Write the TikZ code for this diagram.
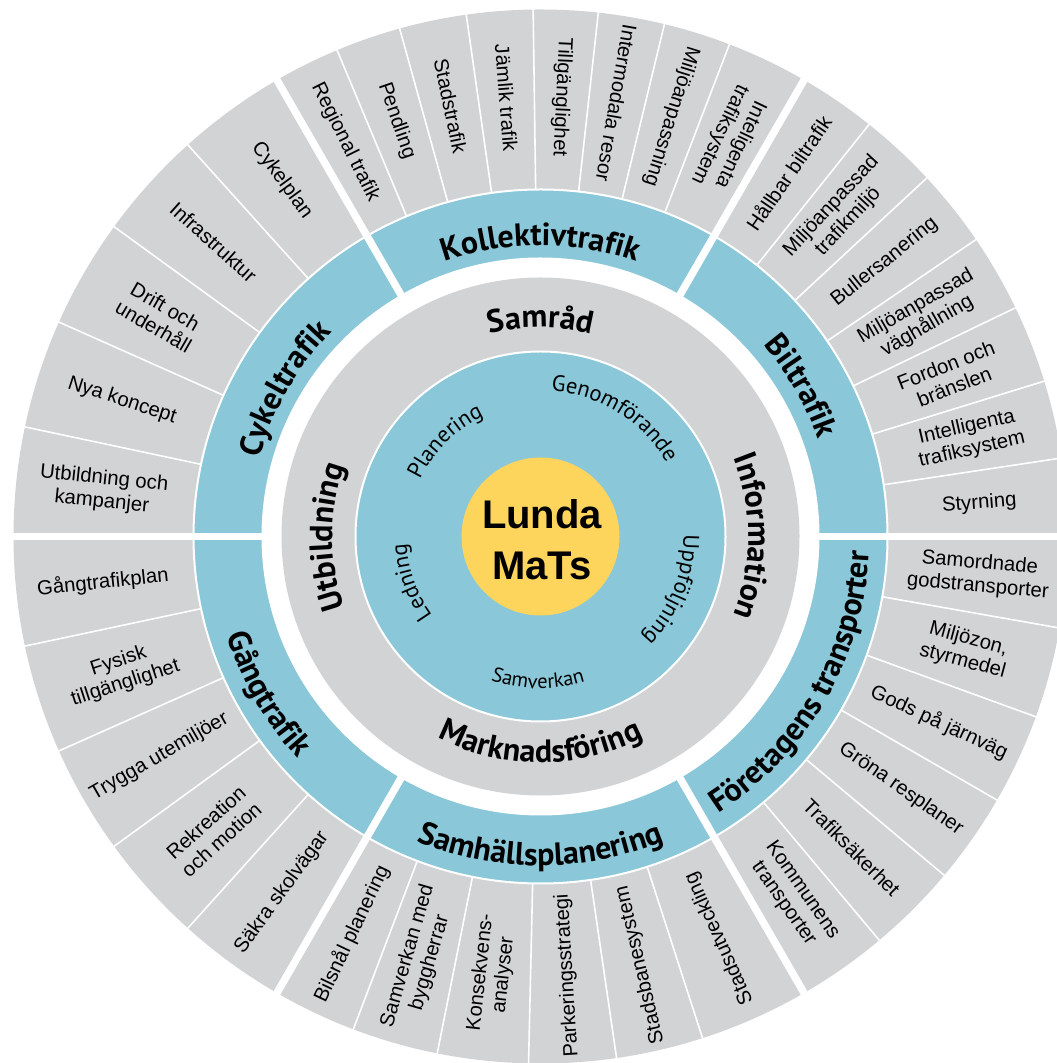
\documentclass[tikz,border=0pt]{standalone}
\usepackage{fontspec}
\setmainfont{Liberation Sans}
\newfontfamily\ptsans{PT Sans}
\usetikzlibrary{decorations.text}
\definecolor{ringteal}{RGB}{137,199,217}
\definecolor{ringgray}{RGB}{210,211,213}
\definecolor{coreyellow}{RGB}{253,213,92}
\newcommand\tealfont{\ptsans\bfseries\fontsize{32}{32}\selectfont}
\newcommand\grayfont{\ptsans\bfseries\fontsize{32}{32}\selectfont}
\newcommand\innerfont{\ptsans\fontsize{22.5}{22.5}\selectfont}
\newcommand\smallinnerfont{\ptsans\fontsize{20.5}{20.5}\selectfont}
\begin{document}
\begin{tikzpicture}[x=1pt,y=1pt,
  item/.style={font=\fontsize{20.3}{23}\selectfont, align=center, inner sep=0pt},
  arctext/.style={decorate, decoration={text along path, text align=center, text={#1}}},
  thinsep/.style={white, line width=1.6pt},
  thicksep/.style={white, line width=7.5pt},
  ringedge/.style={white, line width=2pt}]
\useasboundingbox (0,0) rectangle (1057,1063);
\clip (0,0) rectangle (1057,1063);
\begin{scope}[shift={(540.5,526.5)}]
  % rings
  \fill[ringgray] (0,0) circle[radius=527];
  \fill[ringteal] (0,0) circle[radius=347];
  \draw[ringedge] (0,0) circle[radius=347];
  \fill[white] (0,0) circle[radius=279];
  \fill[ringgray] (0,0) circle[radius=259];
  \fill[ringteal] (0,0) circle[radius=185];
  \draw[ringedge] (0,0) circle[radius=185];
  \fill[coreyellow] (0,0) circle[radius=79];
  % thin item separators
  \foreach \a in {112.7,105.5,98.1,90.8,83.7,76.4,69.0,
                  51.43,42.86,34.29,25.71,17.14,8.57,
                  -10,-20,-30,-40,-50,
                  249.2,258.7,268.7,278.3,287.9,
                  192,204,216,228,
                  132,144,156,168}
    \draw[thinsep] (\a:347) -- (\a:540);
  % thick sector separators
  \foreach \a in {0,60,120,180,240,300}
    \draw[thicksep] (\a:262) -- (\a:545);
  % centre
  \node[font=\bfseries\fontsize{40}{51}\selectfont, align=center, inner sep=0pt] (core) at (1.5,-3) {Lunda\\MaTs};
  % inner teal circle labels
  \path[arctext={|\innerfont|Planering}] (175:133) arc[start angle=175, end angle=95, radius=133];
  \path[arctext={|\innerfont|Genomförande}] (112:146) arc[start angle=112, end angle=4, radius=146];
  \path[arctext={|\innerfont|Uppföljning}] (30:143) arc[start angle=30, end angle=-74, radius=143];
  \path[arctext={|\smallinnerfont|Samverkan}] (-141:152) arc[start angle=-141, end angle=-41, radius=152];
  \path[arctext={|\innerfont|Ledning}] (240:134) arc[start angle=240, end angle=159, radius=134];
  % gray ring labels
  \path[arctext={|\grayfont|Samråd}] (130:209) arc[start angle=130, end angle=50, radius=209];
  \path[arctext={|\grayfont|Information}] (50:208) arc[start angle=50, end angle=-50, radius=208];
  \path[arctext={|\grayfont|Marknadsföring}] (215:226) arc[start angle=215, end angle=325, radius=226];
  \path[arctext={|\grayfont|Utbildning}] (230:208) arc[start angle=230, end angle=130, radius=208];
  % teal sector labels
  \path[arctext={|\tealfont|Kollektivtrafik}] (135:291) arc[start angle=135, end angle=45, radius=291];
  \path[arctext={|\tealfont|Biltrafik}] (75:294) arc[start angle=75, end angle=-15, radius=294];
  \path[arctext={|\tealfont|Cykeltrafik}] (195:292) arc[start angle=195, end angle=105, radius=292];
  \path[arctext={|\tealfont|Samhällsplanering}] (215:329) arc[start angle=215, end angle=325, radius=329];
  \path[arctext={|\tealfont|Företagens transporter}] (-90:329) arc[start angle=-90, end angle=30, radius=329];
  \path[arctext={|\tealfont|Gångtrafik}] (150:329) arc[start angle=150, end angle=270, radius=329];
  % outer items: Kollektivtrafik
  \foreach \a/\t/\n in {116.35/{Regional trafik}/k1, 109.1/{Pendling}/k2, 101.8/{Stadstrafik}/k3,
      94.45/{Jämlik trafik}/k4, 87.25/{Tillgänglighet}/k5, 80.05/{Intermodala resor}/k6,
      72.7/{Miljöanpassning}/k7, 64.5/{Inteligenta\\trafiksystem}/k8}
    \node[item, rotate=\a-180] (\n) at (\a:440) {\t};
  % Biltrafik
  \foreach \a/\t/\n in {55.71/{Hållbar biltrafik}/b1, 47.14/{Miljöanpassad\\trafikmiljö}/b2,
      38.57/{Bullersanering}/b3, 30/{Miljöanpassad\\väghållning}/b4, 21.43/{Fordon och\\bränslen}/b5,
      12.86/{Intelligenta\\trafiksystem}/b6, 4.29/{Styrning}/b7}
    \node[item, rotate=\a] (\n) at (\a:440) {\t};
  % Företagens transporter
  \foreach \a/\t/\n in {-5/{Samordnade\\godstransporter}/f1, -15/{Miljözon,\\styrmedel}/f2,
      -25/{Gods på järnväg}/f3, -35/{Gröna resplaner}/f4, -45/{Trafiksäkerhet}/f5,
      -55/{Kommunens\\transporter}/f6}
    \node[item, rotate=\a] (\n) at (\a:440) {\t};
  % Samhällsplanering
  \foreach \a/\t/\n in {244.6/{Bilsnål planering}/s1, 253.95/{Samverkan med\\byggherrar}/s2,
      263.7/{Konsekvens-\\analyser}/s3, 273.5/{Parkeringsstrategi}/s4,
      283.1/{Stadsbanesystem}/s5, 294/{Stadsutveckling}/s6}
    \node[item, rotate=\a-180] (\n) at (\a:440) {\t};
  % Gångtrafik
  \foreach \a/\t/\n in {186/{Gångtrafikplan}/g1, 198/{Fysisk\\tillgänglighet}/g2,
      210/{Trygga utemiljöer}/g3, 222/{Rekreation\\och motion}/g4, 234/{Säkra skolvägar}/g5}
    \node[item, rotate=\a-180] (\n) at (\a:440) {\t};
  % Cykeltrafik
  \foreach \a/\t/\n in {126/{Cykelplan}/c1, 138/{Infrastruktur}/c2, 150/{Drift och\\underhåll}/c3,
      162/{Nya koncept}/c4, 174/{Utbildning och\\kampanjer}/c5}
    \node[item, rotate=\a-180] (\n) at (\a:440) {\t};
\end{scope}
\end{tikzpicture}
\end{document}
